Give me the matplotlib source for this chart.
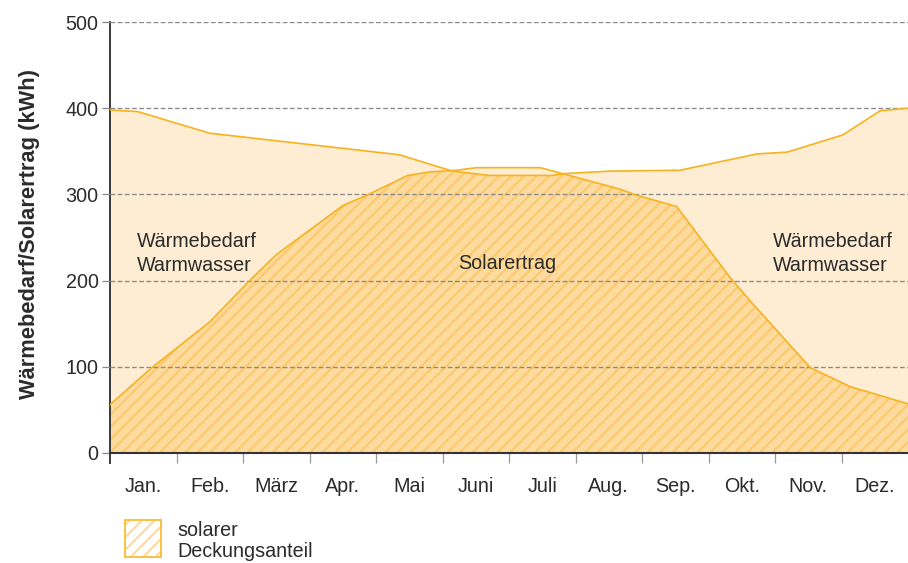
import matplotlib
matplotlib.use("Agg")
import matplotlib.pyplot as plt
from matplotlib.patches import Rectangle
import numpy as np

plt.rcParams["font.family"] = ["Liberation Sans", "DejaVu Sans"]
plt.rcParams["hatch.linewidth"] = 2.0

# month positions (0 = start of Jan, 12 = end of Dec) and kWh values
months = ["Jan.", "Feb.", "März", "Apr.", "Mai", "Juni", "Juli",
          "Aug.", "Sep.", "Okt.", "Nov.", "Dez."]

demand_x = [0, 0.42, 1.5, 4.35, 5.15, 5.71, 6.66, 6.81, 7.52, 8.57,
            9.73, 10.18, 11.02, 11.58, 12]
demand_y = [398, 396, 371, 346, 327, 322, 322, 324, 327, 328,
            347, 349, 369, 397, 400]

solar_x = [0, 0.63, 1.5, 2.1, 2.5, 3.5, 3.86, 4.48, 4.81, 5.21, 5.51,
           6.47, 6.81, 7.67, 7.92, 8.52, 9.32, 9.62, 10.53, 11.13, 12]
solar_y = [56, 99, 152, 200, 230, 287, 299, 322, 326, 328, 331,
           331, 324, 306, 299, 286, 204, 177, 99, 77, 57]

LIGHT = "#FEEDD3"
DARK = "#FDDA9E"
HATCH = "#FBC86A"
LINE = "#F7B21F"
TXT = "#2b2b2b"
FS = 19

xs = np.union1d(demand_x, solar_x)
d = np.interp(xs, demand_x, demand_y)
s = np.interp(xs, solar_x, solar_y)

fig = plt.figure(figsize=(908 / 75, 563 / 75), dpi=75)
ax = fig.add_axes([110 / 908, 110 / 563, 798 / 908, 431 / 563])

ax.fill_between(xs, 0, np.maximum(d, s), facecolor=LIGHT, linewidth=0)
ax.fill_between(xs, 0, np.minimum(d, s), facecolor=DARK, edgecolor=HATCH,
                hatch="//", linewidth=0)
ax.plot(demand_x, demand_y, color=LINE, lw=1.6, zorder=3)
ax.plot(solar_x, solar_y, color=LINE, lw=1.6, zorder=3)

ax.set_xlim(0, 12)
ax.set_ylim(0, 500)
ax.set_yticks(range(0, 501, 100))
ax.set_xticks([i + 0.5 for i in range(12)])
ax.set_xticklabels(months)
ax.set_xticks(range(1, 12), minor=True)
ax.tick_params(axis="x", which="major", length=0, pad=23, labelsize=FS,
               labelcolor=TXT)
ax.tick_params(axis="x", which="minor", length=10, width=1.2, color="#999999")
ax.tick_params(axis="y", length=8, width=1.2, color="#888888", pad=3,
               labelsize=FS, labelcolor=TXT)

ax.set_axisbelow(False)
ax.grid(axis="y", color="#8a8a8a", lw=1.3, ls=(0, (3.5, 1.8)))

for side in ["top", "right"]:
    ax.spines[side].set_visible(False)
ax.spines["left"].set_color("#333333")
ax.spines["left"].set_linewidth(1.8)
ax.spines["left"].set_bounds(-12, 500)
ax.spines["bottom"].set_color("#333333")
ax.spines["bottom"].set_linewidth(2.0)
ax.spines["bottom"].set_zorder(4)

ax.text(0.41, 239, "Wärmebedarf", fontsize=FS, color=TXT)
ax.text(0.41, 211, "Warmwasser", fontsize=FS, color=TXT)
ax.text(5.23, 214, "Solarertrag", fontsize=FS, color=TXT)
ax.text(9.97, 239, "Wärmebedarf", fontsize=FS, color=TXT)
ax.text(9.97, 211, "Warmwasser", fontsize=FS, color=TXT)

fig.text(30 / 908, 1 - 234 / 563, "Wärmebedarf/Solarertrag (kWh)",
         rotation=90, ha="center", va="center", fontsize=21,
         fontweight="bold", color=TXT)

# legend
fig.patches.append(Rectangle((125 / 908, 6 / 563), 36 / 908, 37 / 563,
                             transform=fig.transFigure, facecolor="white",
                             edgecolor="#FDD9A0", hatch="//", linewidth=0))
fig.patches.append(Rectangle((125 / 908, 6 / 563), 36 / 908, 37 / 563,
                             transform=fig.transFigure, facecolor="none",
                             edgecolor="#FBBF3A", linewidth=1.8))
fig.text(177 / 908, 1 - 536 / 563, "solarer", fontsize=FS, color=TXT)
fig.text(177 / 908, 1 - 557 / 563, "Deckungsanteil", fontsize=FS, color=TXT)

fig.savefig("out.png", dpi=75)
